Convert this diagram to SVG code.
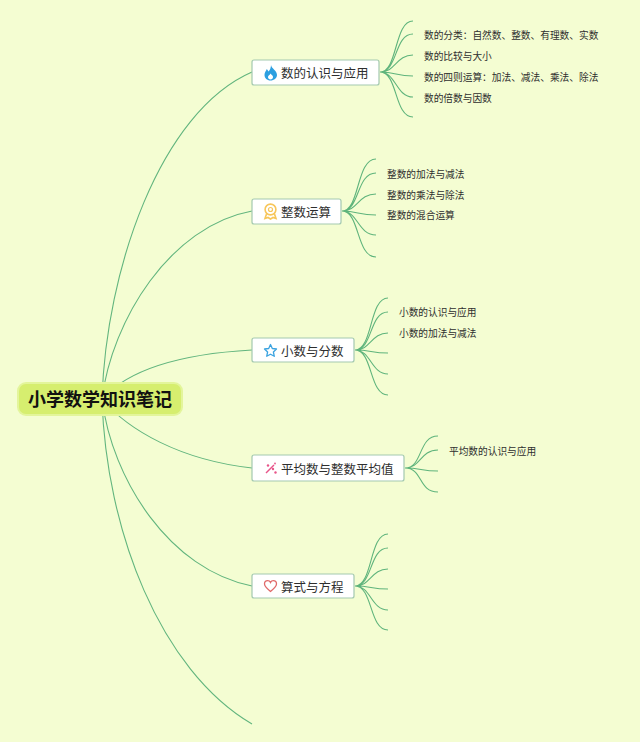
<svg xmlns="http://www.w3.org/2000/svg" width="640" height="742" viewBox="0 0 640 742">
<style>
.bg{fill:#f4fdd2}
.c{fill:none;stroke:#5fb47c;stroke-width:1.100}
.m{fill:none;stroke:#62b57e;stroke-width:1.100}
.box{fill:#fff;stroke:#a3c9b0;stroke-width:1.200}
text{font-family:"Noto Sans CJK SC","Liberation Sans",sans-serif;fill:#2e2e2e}
.t{font-size:12.500px}
.s{font-size:9.700px}
.r{font-size:18px;font-weight:700;fill:#111}
</style>
<rect class="bg" width="640" height="742"/>
<g id="connectors">
<path class="m" d="M102 399C106 270 160 112 252 72"/>
<path class="m" d="M102 399C112 320 170 226 252 211"/>
<path class="m" d="M102 399C128 370 180 354 252 350"/>
<path class="m" d="M102 399C128 430 180 460 252 468"/>
<path class="m" d="M102 399C112 480 170 570 252 586"/>
<path class="m" d="M102 399C106 530 160 670 252 724"/>
<path class="c" d="M380 72C398 72 394 21 413 21M380 72C398 72 394 34 413 34M380 72C396 72 396 55 413 55M380 72C396 72 396 76 413 76M380 72C396 72 396 97 413 97M380 72C398 72 394 117 413 117"/>
<path class="c" d="M342 211C360 211 356 159 376 159M342 211C360 211 356 173 376 173M342 211C358 211 358 194 376 194M342 211C358 211 358 215 376 215M342 211C358 211 358 235 376 235M342 211C360 211 356 257 376 257"/>
<path class="c" d="M355 350C373 350 369 298 388 298M355 350C373 350 369 312 388 312M355 350C371 350 371 333 388 333M355 350C371 350 371 353 388 353M355 350C371 350 371 374 388 374M355 350C373 350 369 395 388 395"/>
<path class="c" d="M405 468C423 468 418 436 438 436M405 468C421 468 420 450 438 450M405 468C421 468 421 471 438 471M405 468C423 468 418 492 438 492"/>
<path class="c" d="M355 586C373 586 369 534 388 534M355 586C373 586 369 548 388 548M355 586C371 586 371 569 388 569M355 586C371 586 371 589 388 589M355 586C371 586 371 610 388 610M355 586C373 586 369 630 388 630"/>
</g>
<g id="root">
<rect x="17" y="382" width="166" height="34" rx="9" fill="#e3f59b"/>
<rect x="19" y="384" width="162" height="30" rx="7" fill="#d6ee6f"/>
<text class="r" x="100" y="405.500" text-anchor="middle">小学数学知识笔记</text>
</g>
<g id="node1">
<rect class="box" x="252" y="60" width="127" height="25" rx="2"/>
<path d="M271 65C271.500 68.500 277 70.500 277 75C277 78 274 80.500 270.500 80.500C267 80.500 264.500 78 264.500 75C264.500 72.500 266 71 266.800 69C267.500 70 268 70.800 268.500 71.500C270 70 271 67.500 271 65Z" fill="#2c9fe0"/>
<path d="M270.500 79.500C269 79.500 268 78.300 268 77C268 75.500 270 75 270.500 73.500C271.500 75 273 75.500 273 77C273 78.300 272 79.500 270.500 79.500Z" fill="#fff"/>
<text class="t" x="281" y="77.500">数的认识与应用</text>
<text class="s" x="424" y="38.500">数的分类：自然数、整数、有理数、实数</text>
<text class="s" x="424" y="59.500">数的比较与大小</text>
<text class="s" x="424" y="80.500">数的四则运算：加法、减法、乘法、除法</text>
<text class="s" x="424" y="101.500">数的倍数与因数</text>
</g>
<g id="node2">
<rect class="box" x="252" y="199" width="89" height="25" rx="2"/>
<circle cx="270.500" cy="209.500" r="5.400" fill="none" stroke="#f7c65a" stroke-width="1.600"/>
<circle cx="270.500" cy="209.500" r="2" fill="none" stroke="#f7c65a" stroke-width="1.200"/>
<path d="M266.500 214L265 218.500L268 217.500L270.500 219L273 217.500L276 218.500L274.500 214" fill="none" stroke="#f7c65a" stroke-width="1.600"/>
<text class="t" x="281" y="216.500">整数运算</text>
<text class="s" x="387" y="177.500">整数的加法与减法</text>
<text class="s" x="387" y="198.500">整数的乘法与除法</text>
<text class="s" x="387" y="218.500">整数的混合运算</text>
</g>
<g id="node3">
<rect class="box" x="252" y="338" width="102" height="24" rx="2"/>
<path d="M270.500 344.500L272.300 348.500L276.500 349L273.400 352L274.300 356.300L270.500 354.200L266.700 356.300L267.600 352L264.500 349L268.700 348.500Z" fill="none" stroke="#3ba3e0" stroke-width="1.300" stroke-linejoin="round"/>
<text class="t" x="281" y="355.500">小数与分数</text>
<text class="s" x="399" y="315.500">小数的认识与应用</text>
<text class="s" x="399" y="336.500">小数的加法与减法</text>
</g>
<g id="node4">
<rect class="box" x="252" y="455" width="152" height="26" rx="2"/>
<path d="M266 473L274 465" fill="none" stroke="#e8558a" stroke-width="1.500"/>
<circle cx="273" cy="469" r="1.200" fill="#e8558a"/>
<circle cx="275.500" cy="472.500" r="1.200" fill="#e8558a"/>
<circle cx="268" cy="465.500" r="1.200" fill="#e8558a"/>
<circle cx="275" cy="463.500" r="0.900" fill="#e8558a"/>
<text class="t" x="281" y="473.500">平均数与整数平均值</text>
<text class="s" x="449" y="454.500">平均数的认识与应用</text>
</g>
<g id="node5">
<rect class="box" x="252" y="574" width="102" height="24" rx="2"/>
<path d="M270.500 591.500C267 588.500 264.500 586.500 264.500 584C264.500 581.800 266.200 580.700 267.700 580.700C268.900 580.700 270 581.500 270.500 582.500C271 581.500 272.100 580.700 273.300 580.700C274.800 580.700 276.500 581.800 276.500 584C276.500 586.500 274 588.500 270.500 591.500Z" fill="none" stroke="#e06a6a" stroke-width="1.300"/>
<text class="t" x="281" y="591.500">算式与方程</text>
</g>
</svg>
